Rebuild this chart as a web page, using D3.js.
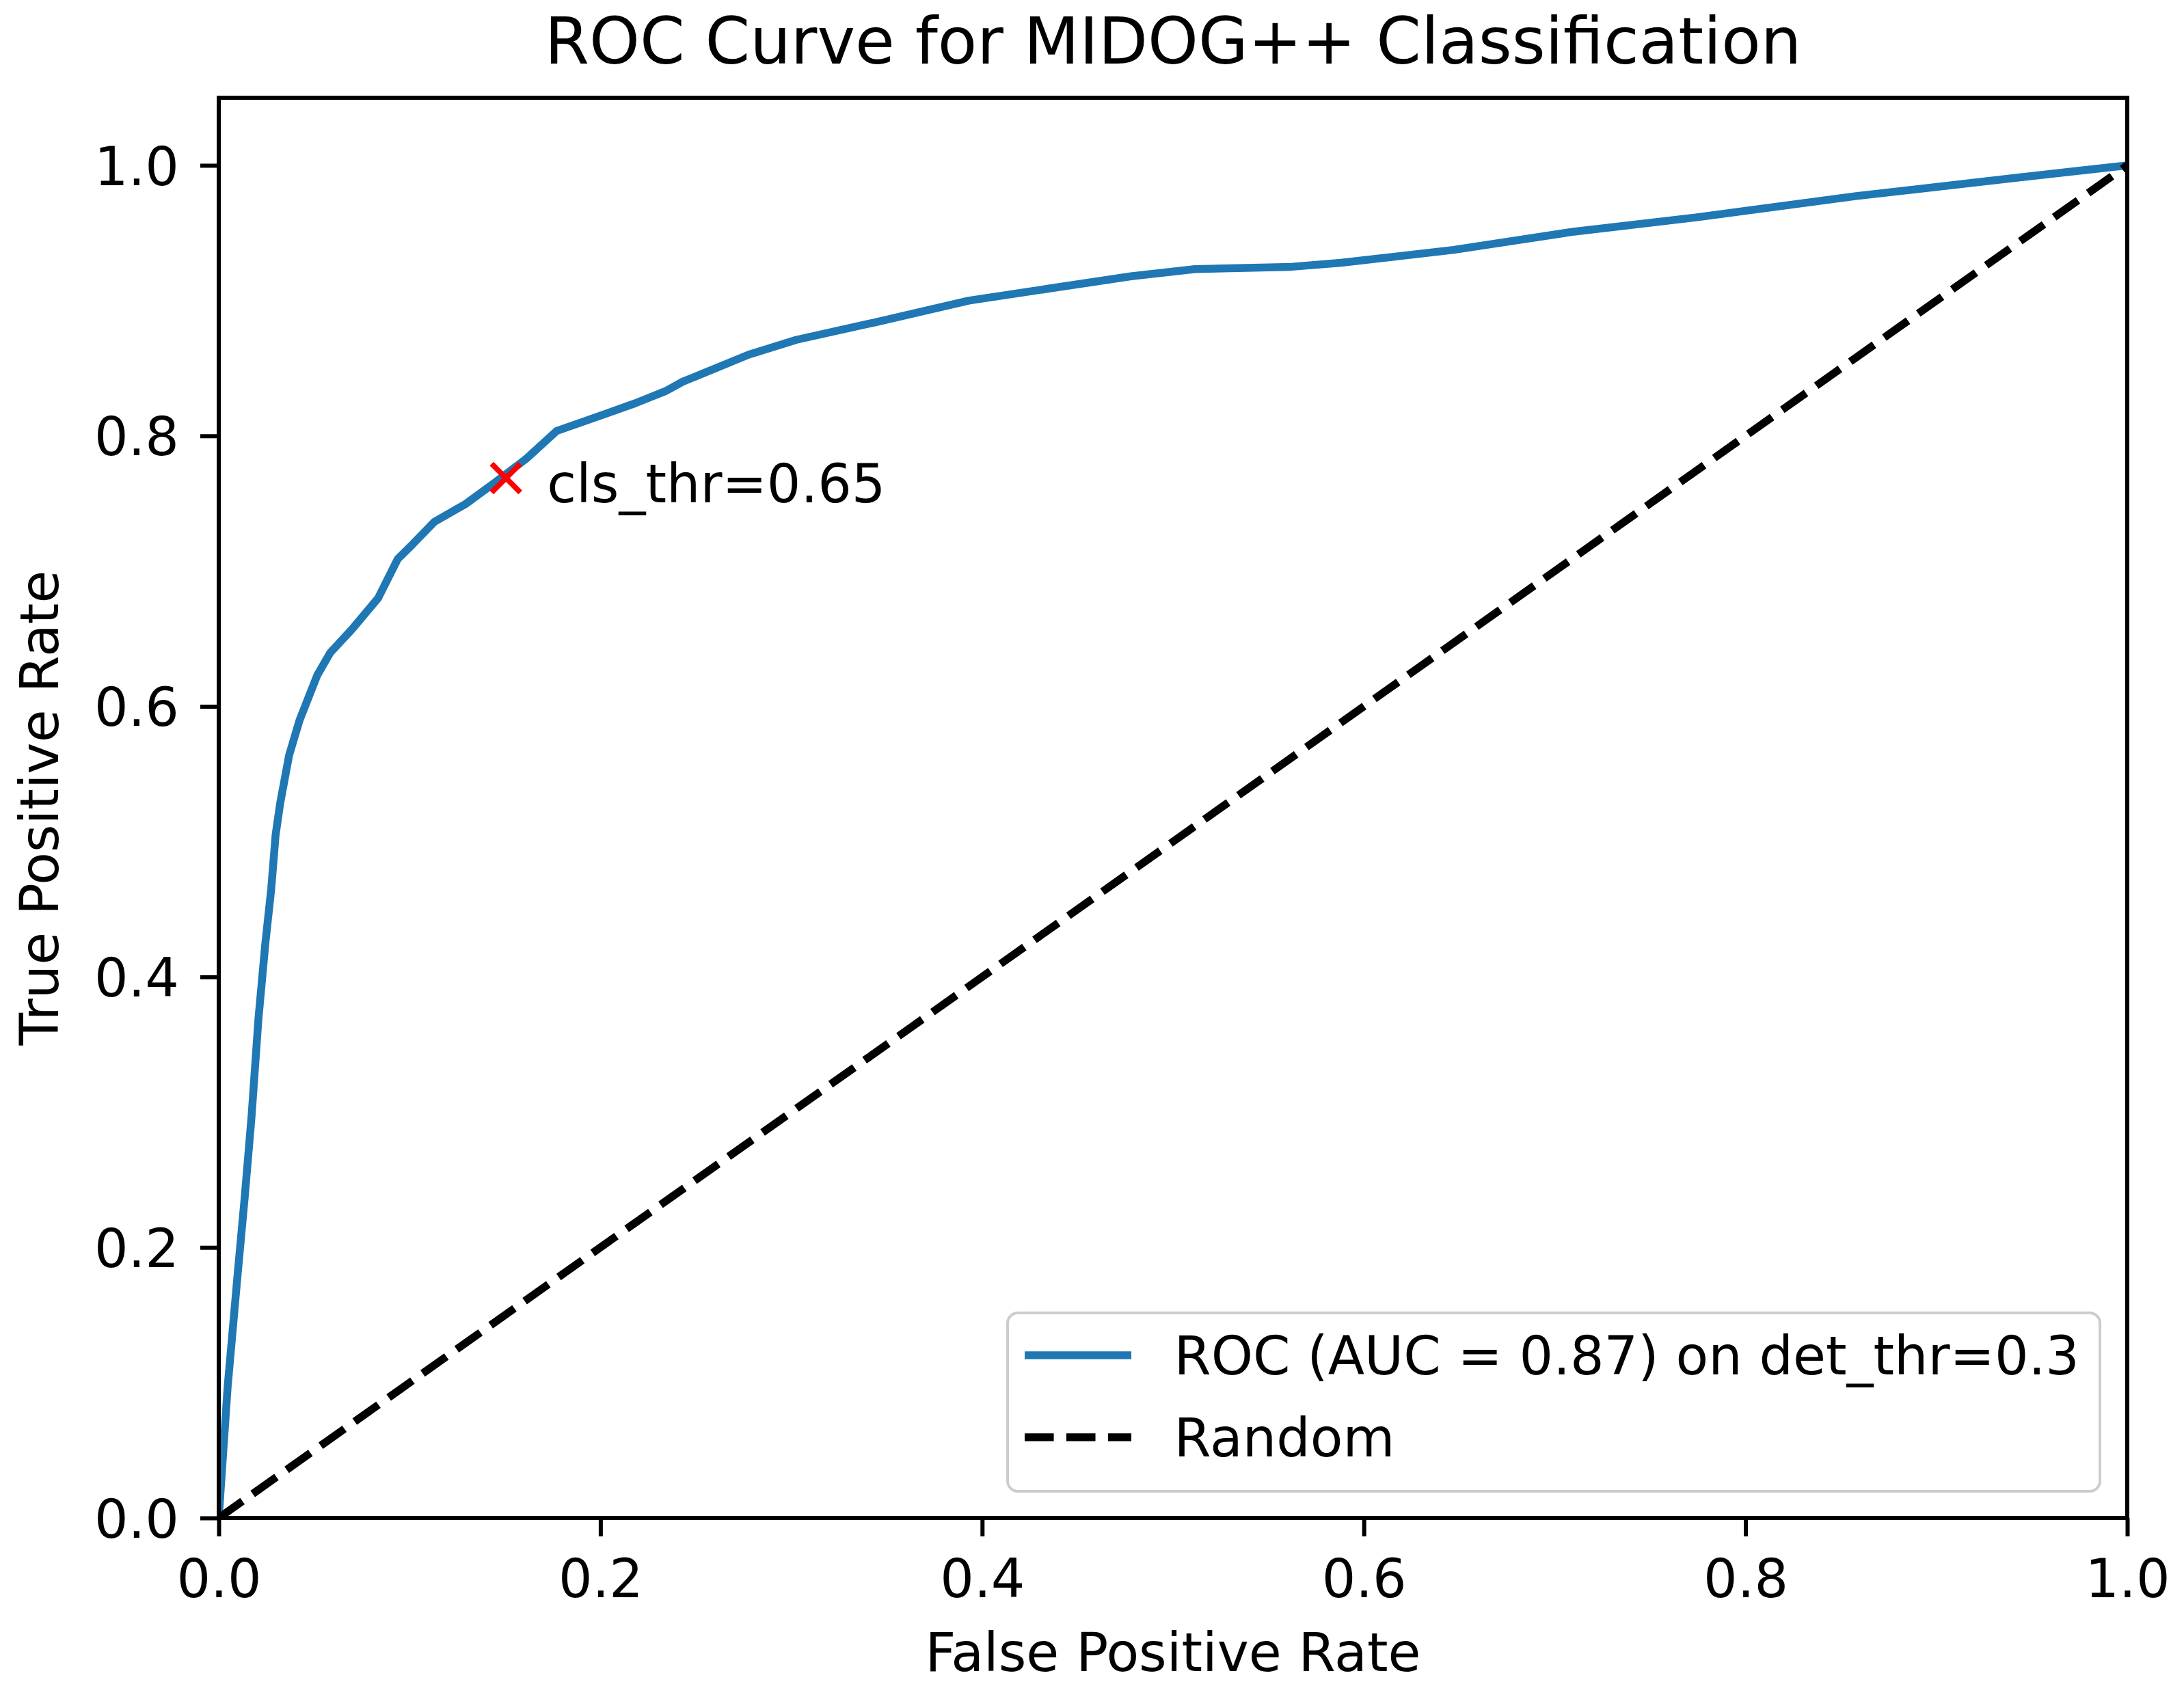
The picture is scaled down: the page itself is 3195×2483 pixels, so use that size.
<!DOCTYPE html>
<html>
<head>
<meta charset="utf-8">
<script src="https://d3js.org/d3.v7.min.js"></script>
<style>
  body { margin: 0; background: #fff; }
  text { font-family: "DejaVu Sans", sans-serif; fill: #000; }
</style>
</head>
<body>
<script>
var fpr = [0, 0.0047, 0.0097, 0.0136, 0.0172, 0.0208, 0.0244, 0.0275, 0.0298, 0.0322,
           0.0369, 0.0423, 0.0516, 0.0584, 0.0698, 0.0835, 0.0938, 0.1017, 0.113, 0.1293,
           0.145, 0.161, 0.177, 0.200, 0.218, 0.234, 0.243, 0.2776, 0.3026, 0.344,
           0.393, 0.4355, 0.478, 0.5115, 0.562, 0.588, 0.647, 0.710, 0.774, 0.858,
           0.943, 1.0];
var tpr = [0, 0.0975, 0.177, 0.237, 0.297, 0.369, 0.4245, 0.465, 0.505, 0.5285,
           0.564, 0.5896, 0.623, 0.6396, 0.657, 0.680, 0.709, 0.720, 0.7365, 0.7496,
           0.7658, 0.783, 0.8036, 0.815, 0.824, 0.833, 0.840, 0.860, 0.871, 0.884,
           0.900, 0.909, 0.918, 0.9233, 0.925, 0.928, 0.9375, 0.951, 0.9615, 0.9773,
           0.991, 1.0];
var randomLine = [[0, 0], [1, 1]];
var opPoint = { fpr: 0.1505, tpr: 0.7688, label: "cls_thr=0.65" };
var xTicks = [0, 0.2, 0.4, 0.6, 0.8, 1.0];
var yTicks = [0, 0.2, 0.4, 0.6, 0.8, 1.0];
var legendLabels = ["ROC (AUC = 0.87) on det_thr=0.3", "Random"];

var setting = {
  WIDTH: 3195,
  HEIGHT: 2483,
  LEFT: 320,
  TOP: 143,
  RIGHT: 3112,
  BOTTOM: 2221,
  FONT: 78,
  LW: 11.5
};

var svg = d3.select("body").append("svg")
            .attr("width", setting.WIDTH)
            .attr("height", setting.HEIGHT);

var x = d3.scaleLinear().domain([0, 1]).range([setting.LEFT, setting.RIGHT]);
var y = d3.scaleLinear().domain([0, 1.05]).range([setting.BOTTOM, setting.TOP]);

svg.append("clipPath").attr("id", "plot-clip")
   .append("rect")
   .attr("x", setting.LEFT).attr("y", setting.TOP)
   .attr("width", setting.RIGHT - setting.LEFT)
   .attr("height", setting.BOTTOM - setting.TOP);

var plot = svg.append("g").attr("clip-path", "url(#plot-clip)");

var line = d3.line().x(function(d) { return x(d[0]); }).y(function(d) { return y(d[1]); });

plot.append("path")
    .datum(fpr.map(function(f, i) { return [f, tpr[i]]; }))
    .attr("d", line)
    .attr("fill", "none")
    .attr("stroke", "#1f77b4")
    .attr("stroke-width", setting.LW)
    .attr("stroke-linejoin", "round");

plot.append("path")
    .datum(randomLine)
    .attr("d", line)
    .attr("fill", "none")
    .attr("stroke", "#000")
    .attr("stroke-width", setting.LW)
    .attr("stroke-dasharray", (3.7 * setting.LW) + "," + (1.6 * setting.LW));

// operating point marker
var mx = x(opPoint.fpr), my = y(opPoint.tpr), ms = 21;
svg.append("path")
   .attr("d", "M" + (mx - ms) + "," + (my - ms) + "L" + (mx + ms) + "," + (my + ms) +
              "M" + (mx - ms) + "," + (my + ms) + "L" + (mx + ms) + "," + (my - ms))
   .attr("stroke", "#ff0000")
   .attr("stroke-width", 8);

svg.append("text")
   .attr("x", mx + 60).attr("y", my + 35)
   .style("font-size", setting.FONT + "px")
   .text(opPoint.label);

// axes
var xAxis = svg.append("g")
   .attr("transform", "translate(0," + setting.BOTTOM + ")")
   .call(d3.axisBottom(x).tickValues(xTicks).tickFormat(d3.format(".1f"))
           .tickSize(27).tickPadding(34).tickSizeOuter(0));
var yAxis = svg.append("g")
   .attr("transform", "translate(" + setting.LEFT + ",0)")
   .call(d3.axisLeft(y).tickValues(yTicks).tickFormat(d3.format(".1f"))
           .tickSize(27).tickPadding(31).tickSizeOuter(0));

[xAxis, yAxis].forEach(function(a) {
  a.select(".domain").remove();
  a.selectAll(".tick line").attr("stroke", "#000").attr("stroke-width", 6);
  a.selectAll(".tick text")
   .attr("fill", "#000")
   .style("font-family", "DejaVu Sans")
   .style("font-size", setting.FONT + "px");
});
yAxis.selectAll(".tick text").attr("dy", "0.36em");

svg.append("rect")
   .attr("x", setting.LEFT).attr("y", setting.TOP)
   .attr("width", setting.RIGHT - setting.LEFT)
   .attr("height", setting.BOTTOM - setting.TOP)
   .attr("fill", "none")
   .attr("stroke", "#000")
   .attr("stroke-width", 6);

// labels
svg.append("text")
   .attr("x", (setting.LEFT + setting.RIGHT) / 2).attr("y", 93)
   .attr("text-anchor", "middle")
   .style("font-size", "94px")
   .text("ROC Curve for MIDOG++ Classification");

svg.append("text")
   .attr("x", (setting.LEFT + setting.RIGHT) / 2).attr("y", 2445)
   .attr("text-anchor", "middle")
   .style("font-size", setting.FONT + "px")
   .text("False Positive Rate");

svg.append("text")
   .attr("transform", "translate(85," + ((setting.TOP + setting.BOTTOM) / 2) + ") rotate(-90)")
   .attr("text-anchor", "middle")
   .style("font-size", setting.FONT + "px")
   .text("True Positive Rate");

// legend (lower right)
var fs = setting.FONT;
var legend = svg.append("g");
var box = legend.append("rect");
var texts = legend.selectAll("text.lab").data(legendLabels).enter()
   .append("text").attr("class", "lab")
   .style("font-size", fs + "px")
   .text(function(d) { return d; });

var textW = d3.max(texts.nodes(), function(n) { return n.getComputedTextLength(); });
var boxW = 25 + 2.0 * fs + 0.8 * fs + textW + 30;
var boxH = 261;
var bx = setting.RIGHT - 40 - boxW;
var by = setting.BOTTOM - 39 - boxH;

box.attr("x", bx).attr("y", by).attr("width", boxW).attr("height", boxH)
   .attr("rx", 15).attr("ry", 15)
   .attr("fill", "#fff").attr("fill-opacity", 0.8)
   .attr("stroke", "#cccccc").attr("stroke-width", 4);

var rowY = [by + 62, by + 182];
texts.attr("x", bx + 25 + 2.0 * fs + 0.8 * fs)
     .attr("y", function(d, i) { return rowY[i] + 28; });

legend.append("line")
   .attr("x1", bx + 25).attr("x2", bx + 25 + 2.0 * fs)
   .attr("y1", rowY[0]).attr("y2", rowY[0])
   .attr("stroke", "#1f77b4").attr("stroke-width", setting.LW);
legend.append("line")
   .attr("x1", bx + 25).attr("x2", bx + 25 + 2.0 * fs)
   .attr("y1", rowY[1]).attr("y2", rowY[1])
   .attr("stroke", "#000").attr("stroke-width", setting.LW)
   .attr("stroke-dasharray", (3.7 * setting.LW) + "," + (1.6 * setting.LW));
</script>
</body>
</html>
